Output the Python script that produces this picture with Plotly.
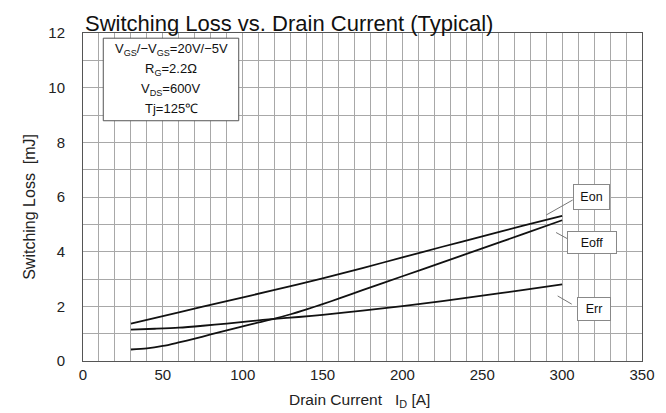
import plotly.graph_objects as go

# Data
eon_x = [30, 60, 90, 120, 150, 175, 200, 225, 250, 275, 300]
eon_y = [1.37, 1.78, 2.19, 2.60, 3.02, 3.40, 3.79, 4.18, 4.56, 4.94, 5.31]

eoff_x = [30, 40, 50, 60, 70, 80, 90, 100, 110, 120, 130, 140, 150, 160, 175, 200, 225, 250, 275, 300]
eoff_y = [0.42, 0.46, 0.55, 0.68, 0.82, 0.97, 1.12, 1.27, 1.41, 1.55, 1.71, 1.89, 2.08, 2.28, 2.59, 3.10, 3.61, 4.12, 4.63, 5.15]

err_x = [30, 45, 60, 75, 90, 105, 120, 135, 150, 175, 200, 225, 250, 275, 300]
err_y = [1.15, 1.18, 1.22, 1.29, 1.37, 1.46, 1.54, 1.61, 1.69, 1.84, 2.01, 2.19, 2.39, 2.59, 2.80]

x_ticks = [0, 50, 100, 150, 200, 250, 300, 350]
y_ticks = [0, 2, 4, 6, 8, 10, 12]

FONT = "Liberation Sans, Arial, sans-serif"
GRID = "#a8a8a8"

fig = go.Figure()
for xs, ys in [(eon_x, eon_y), (eoff_x, eoff_y), (err_x, err_y)]:
    fig.add_trace(go.Scatter(x=xs, y=ys, mode="lines",
                             line=dict(color="#111111", width=1.8, shape="spline", smoothing=0.8),
                             showlegend=False, hoverinfo="skip"))

# page has an 8px body margin, so the figure is shifted 8px right/down
W, H = 658, 405
fig.update_layout(
    width=W, height=H,
    margin=dict(l=75, r=24, t=25, b=52),
    paper_bgcolor="white", plot_bgcolor="white",
    font=dict(family=FONT, color="#222"),
    title=dict(text="Switching Loss vs. Drain Current (Typical)",
               x=77 / W, xanchor="left", y=1 - 15 / H, yanchor="middle",
               font=dict(size=22, color="#111")),
)

fig.update_xaxes(range=[0, 350], tickvals=x_ticks, ticks="", tickfont=dict(size=15),
                 showgrid=True, gridcolor=GRID, gridwidth=1,
                 minor=dict(showgrid=True, gridcolor=GRID, gridwidth=1, dtick=10, tick0=0),
                 showline=True, linecolor="#555", linewidth=1, mirror=True, zeroline=False)
fig.update_yaxes(range=[0, 12], tickvals=y_ticks, ticks="", tickfont=dict(size=15),
                 showgrid=True, gridcolor=GRID, gridwidth=1,
                 minor=dict(showgrid=True, gridcolor=GRID, gridwidth=1, dtick=1, tick0=0),
                 showline=True, linecolor="#555", linewidth=1, mirror=True, zeroline=False,
                 ticklabelstandoff=14)

# Axis titles
fig.add_annotation(x=173.4, y=0, xref="x", yref="paper", yshift=-39, text="Drain Current   I<sub>D</sub> [A]",
                   showarrow=False, font=dict(size=15.5, color="#222"), yanchor="middle", xanchor="center")
fig.add_annotation(x=0, y=5.64, xref="paper", yref="y", xshift=-53, text="Switching Loss  [mJ]",
                   textangle=-90, showarrow=False, font=dict(size=16, color="#222"),
                   xanchor="center", yanchor="middle")

# Condition box
fig.add_shape(type="rect", x0=12.7, x1=97.5, y0=8.79, y1=11.81, xref="x", yref="y",
              line=dict(color="#555", width=1), fillcolor="white", layer="above")
cond_lines = ["V<sub>GS</sub>/−V<sub>GS</sub>=20V/−5V", "R<sub>G</sub>=2.2Ω", "V<sub>DS</sub>=600V", "Tj=125℃"]
cond_y = [11.38, 10.65, 9.92, 9.22]
for t, yy in zip(cond_lines, cond_y):
    fig.add_annotation(x=55.1, y=yy, xref="x", yref="y", text=t, showarrow=False,
                       font=dict(size=13, color="#111"), xanchor="center", yanchor="middle")

# Curve labels
for txt, lx, ly, w, h in [("Eon", 318.1, 6.0, 33, 22), ("Eoff", 319.0, 4.33, 46, 19), ("Err", 320.0, 1.92, 30, 20)]:
    fig.add_annotation(x=lx, y=ly, xref="x", yref="y", text=txt, showarrow=False,
                       font=dict(size=12.5, color="#111"), bordercolor="#888", borderwidth=1,
                       bgcolor="white", width=w, height=h)

for x0, y0, x1, y1 in [(290, 5.34, 306.6, 5.89), (296.2, 4.70, 305, 4.42), (297.2, 2.38, 306, 2.08)]:
    fig.add_shape(type="line", x0=x0, y0=y0, x1=x1, y1=y1, xref="x", yref="y",
                  line=dict(color="#777", width=1))

fig.write_html("out.html")
